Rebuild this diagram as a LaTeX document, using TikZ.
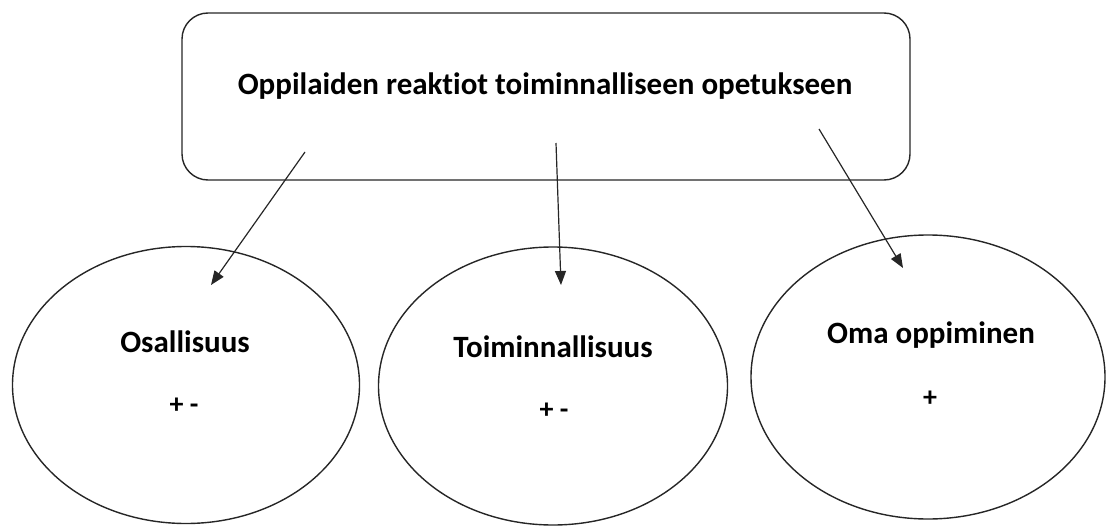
\documentclass[tikz,border=0pt]{standalone}
\usepackage{fontspec}
\setmainfont{Carlito}[Ligatures=NoCommon]
\usetikzlibrary{shapes.geometric,arrows.meta}
\tikzset{
  line/.style={line width=1.4pt, draw=black!85},
  topbox/.style={line, rounded corners=26pt, minimum width=728pt, minimum height=167pt, inner sep=0pt},
  oval/.style={line, ellipse, inner sep=0pt},
  title/.style={font=\fontsize{31}{31}\selectfont\bfseries, inner sep=0pt},
  lab/.style={font=\fontsize{31}{31}\selectfont\bfseries, inner sep=0pt},
  sign/.style={font=\fontsize{28}{28}\selectfont\bfseries, inner sep=0pt},
  conn/.style={line width=1.2pt, draw=black!85, -{Triangle[length=14pt,width=11pt]}}
}
\begin{document}
\begin{tikzpicture}[x=1pt,y=-1pt]
\useasboundingbox (0,0) rectangle (1106,527);
\node[topbox] (top) at (546,96.5) {};
\node[title] (tt) at (545,86) {Oppilaiden reaktiot toiminnalliseen opetukseen};
\node[oval, minimum width=347pt, minimum height=277pt] (e1) at (186,385) {};
\node[oval, minimum width=349pt, minimum height=278pt] (e2) at (553,386) {};
\node[oval, minimum width=354pt, minimum height=284pt] (e3) at (928,377) {};
\node[lab] (l1) at (185,342) {Osallisuus};
\node[lab] (l2) at (553,347) {Toiminnallisuus};
\node[lab] (l3) at (931,335) {Oma oppiminen};
\node[sign] (s1) at (184,406) {+ -};
\node[sign] (s2) at (554,411) {+ -};
\node[sign] (s3) at (930,399) {+};
\coordinate (a1s) at (305,152);
\coordinate (a1e) at (211,285);
\coordinate (a2s) at (556,143);
\coordinate (a2e) at (561,285);
\coordinate (a3s) at (819,129);
\coordinate (a3e) at (903,268);
\draw[conn] (a1s) -- (a1e);
\draw[conn] (a2s) -- (a2e);
\draw[conn] (a3s) -- (a3e);
\end{tikzpicture}
\end{document}
